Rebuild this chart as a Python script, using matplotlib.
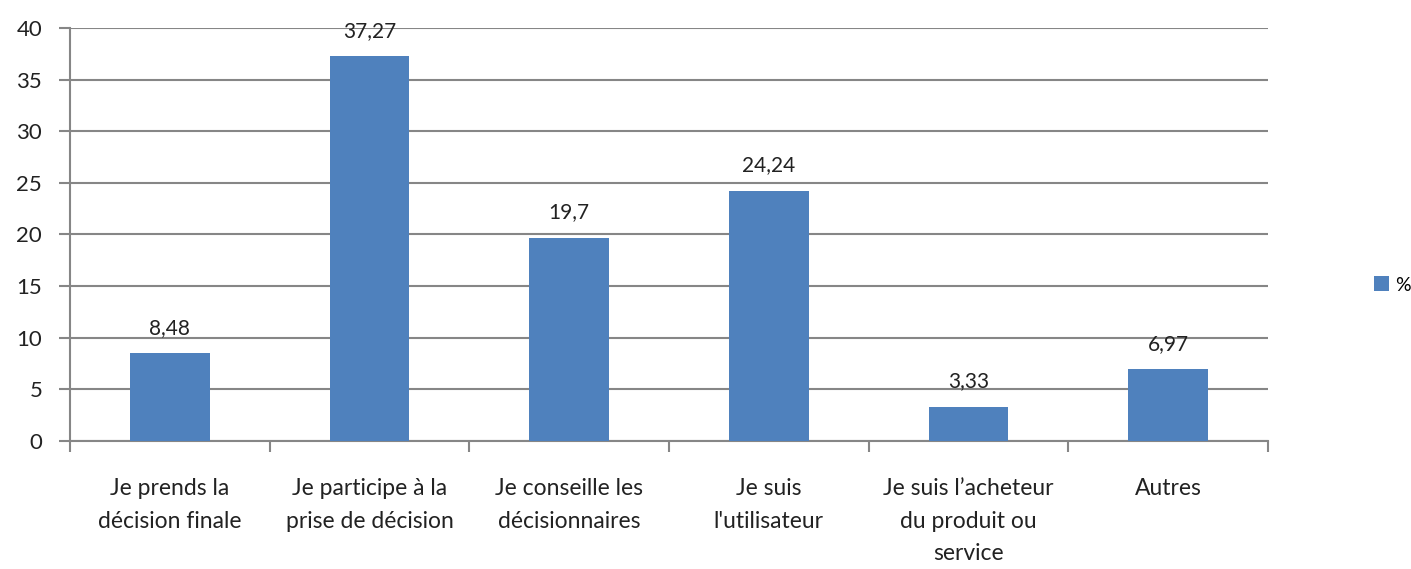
import matplotlib
matplotlib.use('Agg')
import matplotlib.pyplot as plt
import numpy as np

# data
categories = ["Je prends la\ndécision finale",
              "Je participe à la\nprise de décision",
              "Je conseille les\ndécisionnaires",
              "Je suis\nl'utilisateur",
              "Je suis l’acheteur\ndu produit ou\nservice",
              "Autres"]
values = [8.48, 37.27, 19.7, 24.24, 3.33, 6.97]
series_name = "%"

plt.rcParams['font.family'] = ['Lato', 'DejaVu Sans']

bar_color = '#4F81BD'
grid_color = '#868686'

fig = plt.figure(figsize=(14.11, 5.69), dpi=100)
ax = fig.add_axes([0.0496, 0.225, 0.849, 0.726])

x = np.arange(len(categories))
bars = ax.bar(x, values, width=0.4, color=bar_color, label=series_name, zorder=3)

for b, v in zip(bars, values):
    ax.annotate(str(v).replace('.', ','), (b.get_x() + b.get_width() / 2, v),
                xytext=(0, 11), textcoords='offset points',
                ha='center', va='bottom', fontsize=15, color='#222222')

ax.set_xlim(-0.5, len(categories) - 0.5)
ax.set_ylim(0, 40)
ax.set_yticks(np.arange(0, 41, 5))
ax.yaxis.grid(True, color=grid_color, linewidth=1.5, zorder=0)
ax.set_axisbelow(True)

# category ticks between bars, labels centred under bars
ax.set_xticks(np.arange(-0.5, len(categories), 1.0))
ax.set_xticklabels([])
ax.set_xticks(x, minor=True)
ax.set_xticklabels(categories, minor=True, fontsize=16.5, linespacing=1.65,
                   va='top', color='#222222')
ax.tick_params(axis='x', which='minor', length=0, pad=27)
ax.tick_params(axis='x', which='major', length=8, width=1.5, color=grid_color)
ax.tick_params(axis='y', length=8, width=1.5, color=grid_color, labelsize=16,
               labelcolor='#222222', pad=12)

for s in ['top', 'right']:
    ax.spines[s].set_visible(False)
for s in ['left', 'bottom']:
    ax.spines[s].set_color(grid_color)
    ax.spines[s].set_linewidth(1.5)

fig.legend(loc='center left', bbox_to_anchor=(0.968, 0.499), frameon=False,
           fontsize=14, handlelength=0.8, handleheight=0.8, handletextpad=0.3,
           borderaxespad=0)

fig.savefig('out.png', dpi=100)
